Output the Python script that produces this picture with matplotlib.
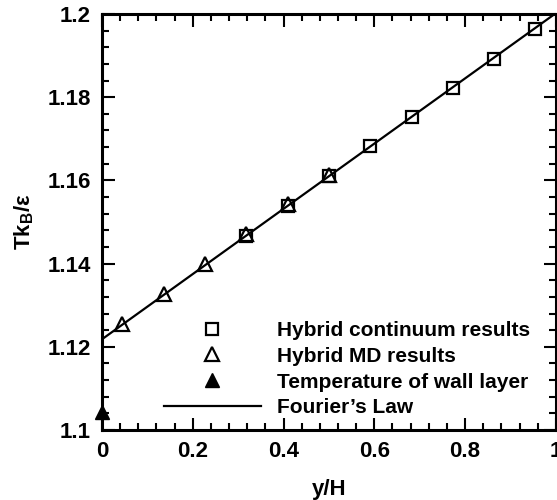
import matplotlib
matplotlib.use("Agg")
import matplotlib.pyplot as plt
from matplotlib.ticker import MultipleLocator
from matplotlib.lines import Line2D

plt.rcParams['font.family'] = ['Liberation Sans', 'DejaVu Sans']
plt.rcParams['mathtext.fontset'] = 'custom'
plt.rcParams['mathtext.rm'] = 'Liberation Sans:bold'
plt.rcParams['mathtext.bf'] = 'Liberation Sans:bold'
plt.rcParams['mathtext.it'] = 'Liberation Sans:bold'

# Data
cont_x = [0.318, 0.409, 0.500, 0.591, 0.682, 0.773, 0.864, 0.955]
cont_y = [1.1466, 1.1538, 1.1610, 1.1682, 1.1753, 1.1823, 1.1893, 1.1964]
md_x = [0.045, 0.136, 0.227, 0.318, 0.409, 0.500]
md_y = [1.1256, 1.1328, 1.1398, 1.1470, 1.1543, 1.1614]
wall_x = [0.0]
wall_y = [1.1043]
fourier_x = [0.0, 1.0]
fourier_y = [1.1218, 1.2002]

fig = plt.figure(figsize=(5.57, 5.0), dpi=100)
ax = fig.add_axes([0.183, 0.14, 0.815, 0.832])

ax.plot(fourier_x, fourier_y, color='black', lw=1.6, zorder=2)
ax.plot(cont_x, cont_y, ls='none', marker='s', ms=9, mfc='none', mec='black', mew=1.6, zorder=3)
ax.plot(md_x, md_y, ls='none', marker='^', ms=10, mfc='none', mec='black', mew=1.6, zorder=3)
ax.plot(wall_x, wall_y, ls='none', marker='^', ms=10, mfc='black', mec='black', clip_on=False, zorder=4)

ax.set_xlim(0, 1.0)
ax.set_ylim(1.1, 1.2)
ax.xaxis.set_minor_locator(MultipleLocator(0.04))
ax.yaxis.set_minor_locator(MultipleLocator(0.004))
ax.set_xticks([0, 0.2, 0.4, 0.6, 0.8, 1.0])
ax.set_xticklabels(['0', '0.2', '0.4', '0.6', '0.8', '1'])
ax.set_yticks([1.1, 1.12, 1.14, 1.16, 1.18, 1.2])
ax.set_yticklabels(['1.1', '1.12', '1.14', '1.16', '1.18', '1.2'])

ax.tick_params(which='both', direction='in', top=True, right=True, width=1.5,
               labelsize=16)
ax.tick_params(which='major', length=9, pad=8)
ax.tick_params(which='minor', length=5)
for lbl in ax.get_xticklabels() + ax.get_yticklabels():
    lbl.set_fontweight('bold')
for s in ax.spines.values():
    s.set_linewidth(2.2)

ax.set_xlabel('y/H', fontsize=16, fontweight='bold', labelpad=12)
ax.set_ylabel(r'Tk$_\mathbf{B}$/ε', fontsize=16, fontweight='bold', labelpad=8)

handles = [
    Line2D([], [], ls='none', marker='s', ms=9, mfc='none', mec='black', mew=1.6),
    Line2D([], [], ls='none', marker='^', ms=10, mfc='none', mec='black', mew=1.6),
    Line2D([], [], ls='none', marker='^', ms=10, mfc='black', mec='black'),
    Line2D([], [], color='black', lw=1.6),
]
labels = ['Hybrid continuum results', 'Hybrid MD results',
          'Temperature of wall layer', "Fourier’s Law"]
leg = ax.legend(handles, labels, loc='lower right', bbox_to_anchor=(0.985, -0.015),
                frameon=False, handlelength=4.65, handletextpad=0.8,
                labelspacing=0.33, prop={'weight': 'bold', 'size': 15})

fig.savefig('out.png', dpi=100)
